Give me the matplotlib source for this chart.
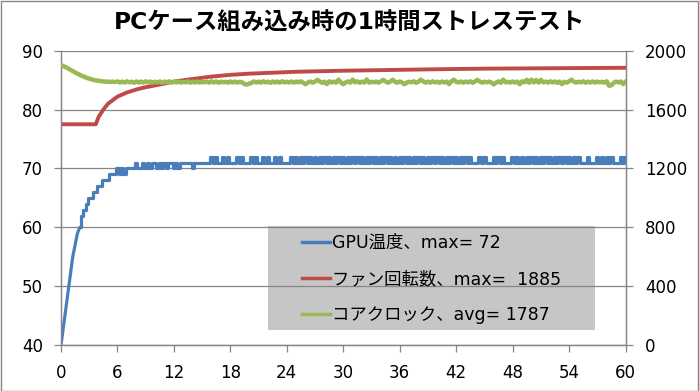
import numpy as np
import matplotlib
matplotlib.use("Agg")
import matplotlib.pyplot as plt
from matplotlib.patches import Rectangle

plt.rcParams['font.family'] = ['DejaVu Sans', 'Noto Sans CJK JP']

title = "PCケース組み込み時の1時間ストレステスト"
x_ticks = [0, 6, 12, 18, 24, 30, 36, 42, 48, 54, 60]
left_ticks = [40, 50, 60, 70, 80, 90]
right_ticks = [0, 400, 800, 1200, 1600, 2000]
labels = ["GPU温度、max= 72", "ファン回転数、max=  1885", "コアクロック、avg= 1787"]

# sample times (minutes), 0.25-min interval
minutes = np.arange(241) * 0.25

gpu_temp = [
    40, 43, 46, 49, 52, 55, 57, 59, 60, 62, 63, 64, 65, 65, 66, 66,
    67, 67, 68, 68, 68, 69, 69, 69, 70, 69, 70, 69, 70, 70, 70, 70,
    71, 70, 70, 71, 70, 71, 70, 71, 71, 70, 71, 70, 71, 70, 71, 71,
    70, 71, 70, 71, 71, 71, 71, 71, 70, 71, 71, 71, 71, 71, 71, 71,
    72, 71, 72, 71, 71, 72, 71, 72, 71, 71, 71, 72, 71, 72, 71, 71,
    71, 72, 71, 72, 71, 71, 72, 71, 72, 71, 71, 72, 71, 72, 71, 71,
    71, 71, 72, 71,
    72, 71, 72, 71, 72, 71, 72, 71, 72, 71, 72, 71, 72, 71, 72, 71,
    72, 71, 72, 71, 72, 71, 72, 71, 72, 71, 72, 71, 72, 71, 72, 71,
    72, 71, 72, 71, 72, 71, 72, 71, 72, 71, 72, 71, 72, 71, 72, 71,
    72, 71, 72, 71, 72, 71, 72, 71, 72, 71, 72, 71, 72, 71, 72, 71,
    72, 71, 72, 71, 72, 71, 72, 71, 72, 71, 72, 71, 71, 71, 72, 71,
    72, 71, 71, 71, 72, 71, 72, 71, 72, 71, 71, 71, 72, 71, 72, 71,
    72, 71, 72, 71, 72, 71, 72, 71, 72, 71, 72, 71, 72, 71, 72, 71,
    72, 71, 72, 71, 72, 71, 72, 71, 72, 71, 71, 71, 72, 71, 71, 71,
    72, 71, 72, 71, 72, 71, 72, 71, 71, 71, 72, 71, 72,
]

fan_minutes = [0, 3.7, 4.0, 4.5, 5, 6, 7, 8, 9, 10, 12, 14, 16, 18, 20,
               25, 30, 35, 40, 45, 50, 55, 60]
fan_rpm = [1500, 1500, 1550, 1600, 1640, 1688, 1716, 1736, 1752, 1764, 1790,
           1808, 1824, 1836, 1844, 1857, 1864, 1869, 1874, 1878, 1880, 1882, 1884]

core_clock = [
    1903, 1895, 1888, 1880, 1870, 1862, 1852, 1844, 1836, 1828, 1822, 1815,
    1810, 1806, 1800, 1798, 1795, 1793, 1791, 1790, 1789, 1788, 1790, 1787,
    1791, 1784, 1790, 1783, 1792, 1785, 1789, 1782, 1791, 1784, 1790, 1783,
    1792, 1785, 1790, 1783, 1789, 1784, 1791, 1782, 1790, 1785, 1792, 1783,
    1790, 1784, 1791, 1783, 1789, 1785, 1792, 1782, 1790, 1784, 1791, 1783,
    1789, 1785, 1790, 1783, 1792, 1784, 1791, 1782, 1790, 1785, 1789, 1783,
    1791, 1784, 1790, 1783, 1789, 1785, 1773, 1770, 1776, 1782, 1791, 1784,
    1790, 1783, 1792, 1785, 1789, 1782, 1791, 1784, 1790, 1783, 1792, 1785,
    1789, 1784, 1791, 1783, 1790, 1785, 1792, 1782, 1772, 1784, 1791, 1783,
    1790, 1802, 1791, 1782, 1789, 1773, 1792, 1784, 1790, 1783, 1803, 1785,
    1772, 1784, 1791, 1783, 1803, 1785, 1792, 1782, 1790, 1784, 1804, 1783,
    1789, 1785, 1790, 1783, 1792, 1802, 1791, 1782, 1790, 1803, 1789, 1783,
    1791, 1784, 1772, 1783, 1789, 1785, 1792, 1782, 1790, 1803, 1791, 1783,
    1790, 1783, 1792, 1785, 1789, 1782, 1791, 1784, 1790, 1773, 1792, 1803,
    1789, 1784, 1791, 1783, 1790, 1785, 1792, 1782, 1790, 1802, 1791, 1783,
    1789, 1785, 1790, 1783, 1771, 1784, 1791, 1782, 1803, 1785, 1789, 1783,
    1791, 1784, 1790, 1772, 1792, 1785, 1802, 1782, 1803, 1784, 1801, 1783,
    1802, 1785, 1790, 1783, 1792, 1784, 1791, 1782, 1790, 1773, 1789, 1783,
    1791, 1803, 1790, 1783, 1789, 1785, 1792, 1782, 1790, 1784, 1791, 1783,
    1790, 1785, 1789, 1783, 1792, 1762, 1765, 1782, 1790, 1784, 1791, 1773,
    1788,
]

BLUE = '#4A7EBB'
RED = '#BE4B48'
GREEN = '#98B954'
GRAY = '#868686'

W, H = 699, 391
fig = plt.figure(figsize=(W / 100, H / 100), dpi=100)
L, R, T, B = 61, 625.5, 50.7, 345
ax = fig.add_axes([L / W, 1 - B / H, (R - L) / W, (B - T) / H])
ax2 = ax.twinx()

ax.set_xlim(0, 60)
ax.set_ylim(40, 90)
ax2.set_ylim(0, 2000)
ax.set_xticks(x_ticks)
ax.set_yticks(left_ticks)
ax2.set_yticks(right_ticks)

ax.grid(axis='y', color=GRAY, linewidth=0.9)
ax.set_axisbelow('line')
ax.spines['top'].set_visible(False)
ax2.spines['top'].set_visible(False)
for a in (ax, ax2):
    for s in ['left', 'right', 'bottom']:
        a.spines[s].set_color(GRAY)
        a.spines[s].set_linewidth(0.9)
    a.tick_params(colors=GRAY, labelcolor='black', length=5, width=0.9,
                  labelsize=12)
ax.tick_params(axis='y', pad=8)
ax2.tick_params(axis='y', pad=9)
ax.tick_params(axis='x', pad=9)

# legend background (drawn beneath gridlines)
ax.add_patch(Rectangle((268 / W, 1 - 330 / H), (595 - 268) / W, (330 - 226) / H,
                       transform=fig.transFigure, facecolor='#C6C6C6',
                       edgecolor='none', zorder=0.5, clip_on=False))

# GPU temperature: smooth ramp, then integer steps
ax.plot(minutes[:9], gpu_temp[:9], color=BLUE, lw=2.3, zorder=2,
        solid_capstyle='butt')
l1, = ax.plot(minutes[8:], gpu_temp[8:], color=BLUE, lw=2.3, zorder=2,
              drawstyle='steps-mid')
l2, = ax2.plot(fan_minutes, fan_rpm, color=RED, lw=2.8, zorder=2)
l3, = ax2.plot(minutes, core_clock, color=GREEN, lw=3.2, zorder=3)

leg = ax2.legend([l1, l2, l3], labels, loc='upper left',
                 bbox_to_anchor=(302 / W, 1 - 234 / H),
                 bbox_transform=fig.transFigure, frameon=False, fontsize=12.5,
                 handlelength=1.6, handletextpad=0.15, labelspacing=1.05,
                 borderpad=0, borderaxespad=0)
for h in leg.legend_handles:
    h.set_drawstyle('default')
    h.set_linewidth(2.5)

fig.text(0.5, 1 - 23 / H, title, ha='center', va='center', fontsize=16.8,
         fontweight='bold')

fig.add_artist(Rectangle((0.5 / W, 0.5 / H), (W - 1.5) / W, (H - 1.5) / H,
                         transform=fig.transFigure, facecolor='none',
                         edgecolor=GRAY, linewidth=1))

fig.savefig('out.png', dpi=100)
